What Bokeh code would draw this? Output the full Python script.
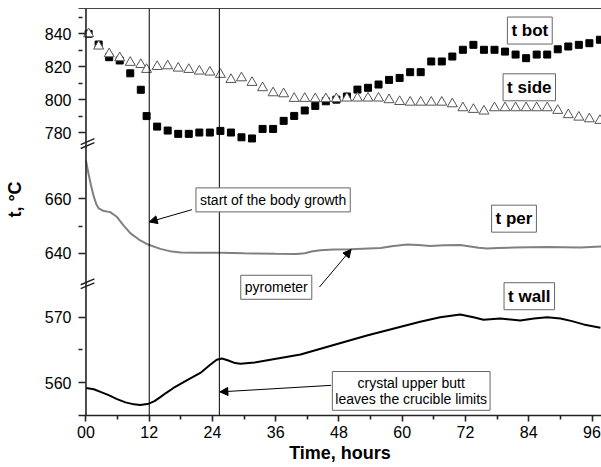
from bokeh.plotting import figure
from bokeh.models import (Range1d, LinearAxis, FixedTicker, Span, Label, Arrow,
                          NormalHead)
from bokeh.embed import file_html
from bokeh.resources import INLINE

# ---------------- data ----------------
sample_t = [0.5, 2.4, 4.4, 6.4, 8.4, 10.4, 11.5, 13.5, 15.5, 17.5, 19.5, 21.5, 23.5,
            25.5, 27.5, 29.5, 31.5, 33.5, 35.5, 37.5, 39.5, 41.5, 43.5, 45.5, 47.5,
            49.5, 51.5, 53.5, 55.5, 57.5, 59.5, 61.5, 63.5, 65.5, 67.5, 69.5, 71.5,
            73.5, 75.5, 77.5, 79.5, 81.5, 83.5, 85.5, 87.5, 89.5, 91.5, 93.5, 95.5, 97.5]
t_bot = [840, 833.5, 825.8, 823.8, 816, 806, 790, 783.6, 781.2, 779.2, 779.2, 780, 780,
         781, 780, 777.1, 776.4, 782.2, 782.2, 787.1, 790.1, 793.4, 796.2, 799, 800,
         801.9, 806.1, 807.2, 809.2, 812, 813.2, 816.7, 816.7, 823.2, 823.2, 826.2, 830.3,
         833.3, 830.3, 830.3, 829.2, 827.4, 825.2, 827.4, 827.4, 830.6, 832.3, 833.3, 834.3, 836.4]
t_side = [840, 832.5, 827.8, 825.4, 822.6, 821.3, 818.3, 820.1, 820.5, 819.1, 818.3, 817.3,
          816.7, 815.3, 812.2, 813.2, 810.4, 807.2, 804.1, 803.5, 800.7, 800.7, 800.5, 800.5,
          800.5, 800.9, 800.9, 800.9, 800.9, 799.9, 798.8, 798.4, 798.4, 798.4, 798.4, 797.4,
          795.0, 794.0, 793.0, 795.0, 795.0, 795.0, 795.0, 795.0, 795.0, 793.4, 790.8, 789.3,
          788.3, 787.3]

per_t = [0, 0.5, 1.0, 1.5, 2.0, 2.4, 3.4, 4.6, 5.9, 7, 8.4, 10.3, 11.9, 14.1, 16.3, 18,
         21.7, 25.5, 30, 36, 40.0, 41.5, 43.0, 44.5, 47, 50.2, 55.9, 58, 60.9, 63, 65.3, 68,
         71, 72.9, 74.5, 76.1, 78, 81.1, 87.5, 93.8, 97.8]
t_per = [674, 669, 664.5, 660.7, 657.8, 656.5, 655.5, 655.1, 653.3, 650.5, 647.4, 644.7,
         643.1, 641.6, 640.6, 640.3, 640.2, 640.2, 640.0, 639.8, 639.7, 640.0, 640.7, 641.1,
         641.4, 641.5, 641.9, 642.6, 643.2, 643.0, 642.7, 642.9, 643.0, 642.5, 642.0, 641.7,
         641.9, 642.1, 642.3, 642.1, 642.5]

wall_t = [0, 1.5, 2.75, 4.3, 5.9, 7.5, 9.1, 10.3, 11.9, 13.0, 14.1, 15.3, 16.6, 19.2, 21.7,
          23.5, 24.8, 25.8, 27, 28.3, 29.3, 32, 40.7, 53.3, 63.4, 67.2, 71, 73.5, 75.4, 78.6,
          82.4, 85.0, 87.5, 90, 92.2, 94.4, 97.6]
t_wall = [559.2, 559.0, 558.6, 558.1, 557.5, 557.0, 556.7, 556.6, 556.8, 557.2, 557.8, 558.5,
          559.2, 560.4, 561.5, 562.7, 563.5, 563.7, 563.4, 563.0, 562.9, 563.1, 564.3, 567.2,
          569.3, 570.0, 570.4, 570.0, 569.6, 569.8, 569.5, 569.8, 570.0, 569.8, 569.4, 568.9,
          568.4]

x_ticks = [0, 12, 24, 36, 48, 60, 72, 84, 96]
x_tick_labels = ["00", "12", "24", "36", "48", "60", "72", "84", "96"]
x_minor = [6, 18, 30, 42, 54, 66, 78, 90]
top_ticks = [780, 800, 820, 840]
top_minor = [790, 810, 830, 850]
mid_ticks = [640, 660]
mid_minor = [650]
bot_ticks = [560, 570]
bot_minor = [565]

growth_start = 12.0
butt_leaves = 25.3

# ---------------- broken y scale: three segments ----------------
TOP = Range1d(608.0, 855.4)
MID = Range1d(580.4, 729.9)
BOT = Range1d(555.0, 617.1)
SCALE = 4000
TOP_FLOOR = 773.3   # lower edge of top segment (break)
BOT_CEIL = 575.1    # upper edge of bottom segment (break)


def pos(v, r):
    return int(round((v - r.start) / (r.end - r.start) * SCALE))


FONT = "Liberation Sans"

p = figure(width=601, height=467, x_range=Range1d(-1.42, 97.8), y_range=Range1d(0, SCALE),
           output_backend="svg", toolbar_location=None,
           min_border_left=78, min_border_right=0, min_border_top=8, min_border_bottom=52)
p.extra_y_ranges = {"top": TOP, "mid": MID, "bot": BOT}
p.outline_line_color = None
p.grid.visible = False

# y axis (single, with labels taken from the segment scales)
yt, ym, yover = [], [], {}
for ticks, minor, r in [(top_ticks, top_minor, TOP), (mid_ticks, mid_minor, MID),
                        (bot_ticks, bot_minor, BOT)]:
    for v in ticks:
        yt.append(pos(v, r))
        yover[pos(v, r)] = str(v)
    for v in minor:
        ym.append(pos(v, r))
yax = p.yaxis[0]
yax.ticker = FixedTicker(ticks=yt, minor_ticks=ym)
yax.major_label_overrides = yover
yax.axis_label = "\u00a0" * 5 + "t, °C"
yax.axis_label_standoff = 17

xax = p.xaxis[0]
xax.ticker = FixedTicker(ticks=x_ticks, minor_ticks=x_minor)
xax.major_label_overrides = {t: l for t, l in zip(x_ticks, x_tick_labels)}
xax.axis_label = "Time, hours"
xax.axis_label_standoff = 2

for ax in (xax, yax):
    ax.axis_label_text_font = FONT
    ax.axis_label_text_font_style = "bold"
    ax.axis_label_text_font_size = "18px"
    ax.axis_label_text_color = "black"
    ax.major_label_text_font = FONT
    ax.major_label_text_font_size = "16px"
    ax.major_label_text_color = "black"
    ax.axis_line_width = 1.6
    ax.axis_line_color = "#222"
    ax.major_tick_line_width = 1.6
    ax.minor_tick_line_width = 1.6
    ax.major_tick_line_color = "#222"
    ax.minor_tick_line_color = "#222"

# y axis sits at the frame edge; ticks point inward so they end on the x=0 axis line
yax.axis_line_color = None
yax.major_tick_out = 0
yax.major_tick_in = 7
yax.minor_tick_out = 0
yax.minor_tick_in = 4
yax.major_label_standoff = 7

xax.major_tick_in = 0
xax.minor_tick_in = 0
xax.major_tick_out = 6
xax.minor_tick_out = 4
xax.major_label_standoff = 4

top_ax = LinearAxis(ticker=FixedTicker(ticks=[]), major_tick_out=0, major_tick_in=0,
                    minor_tick_out=0, minor_tick_in=0, major_label_standoff=0,
                    axis_line_color="#444", axis_line_width=1.2)
p.add_layout(top_ax, "above")

# visible vertical axis line at time zero
p.add_layout(Span(location=0, dimension="height", line_color="#222", line_width=1.6))

# ---------------- data marks ----------------
p.scatter(sample_t, t_bot, marker="square", size=7, color="black", y_range_name="top")
p.scatter(sample_t, t_side, marker="triangle", size=10, fill_color="white",
          line_color="#555", line_width=1, y_range_name="top")
p.line(per_t, t_per, color="#808080", line_width=2, y_range_name="mid")
p.line(wall_t, t_wall, color="black", line_width=2, y_range_name="bot")

for xl in (growth_start, butt_leaves):
    p.add_layout(Span(location=xl, dimension="height", line_color="black", line_width=1))

# break marks on the y axis
for yv, rn, d, g in [(TOP_FLOOR, "top", 1.8, 2.4), (BOT_CEIL, "bot", 0.45, 0.6)]:
    for k in (-0.5, 0.5):
        p.add_layout(Arrow(end=None, x_start=-1.0, x_end=1.6,
                           y_start=yv - d + k * g, y_end=yv + d + k * g,
                           y_range_name=rn, line_color="#222", line_width=1.4))

# boxed series labels
box = dict(text_align="center", text_baseline="middle", text_font=FONT,
           text_color="black", border_line_color="#666", border_line_width=1,
           background_fill_color="white", padding=4)
for txt, x, y, rn in [("t bot", 84.2, 842.0, "top"), ("t side", 84.1, 807.5, "top"),
                      ("t per", 81.2, 652.7, "mid"), ("t wall", 84.1, 573.2, "bot")]:
    p.add_layout(Label(text=txt, x=x, y=y, y_range_name=rn, text_font_style="bold",
                       text_font_size="17px", **box))

for txt, x, y, rn in [("start of the body growth", 35.5, 659.6, "mid"),
                      ("pyrometer", 36.1, 627.5, "mid")]:
    p.add_layout(Label(text=txt, x=x, y=y, y_range_name=rn, text_font_size="14px", **box))
p.add_layout(Label(text="crystal upper butt\nleaves the crucible limits", x=61.7, y=558.75,
                   y_range_name="bot", text_font_size="14px", text_line_height=1.05,
                   **dict(box, padding=3)))

# arrows
for xs, ys, xe, ye, rn in [(20.1, 656.0, 12.0, 651.5, "mid"),
                           (44.3, 627.6, 50.3, 641.4, "mid"),
                           (46.5, 559.6, 25.4, 558.6, "bot")]:
    p.add_layout(Arrow(end=NormalHead(size=8, fill_color="black", line_color="black"),
                       x_start=xs, y_start=ys, x_end=xe, y_end=ye, y_range_name=rn,
                       line_color="black", line_width=1))

open("out.html", "w").write(file_html(p, INLINE))
